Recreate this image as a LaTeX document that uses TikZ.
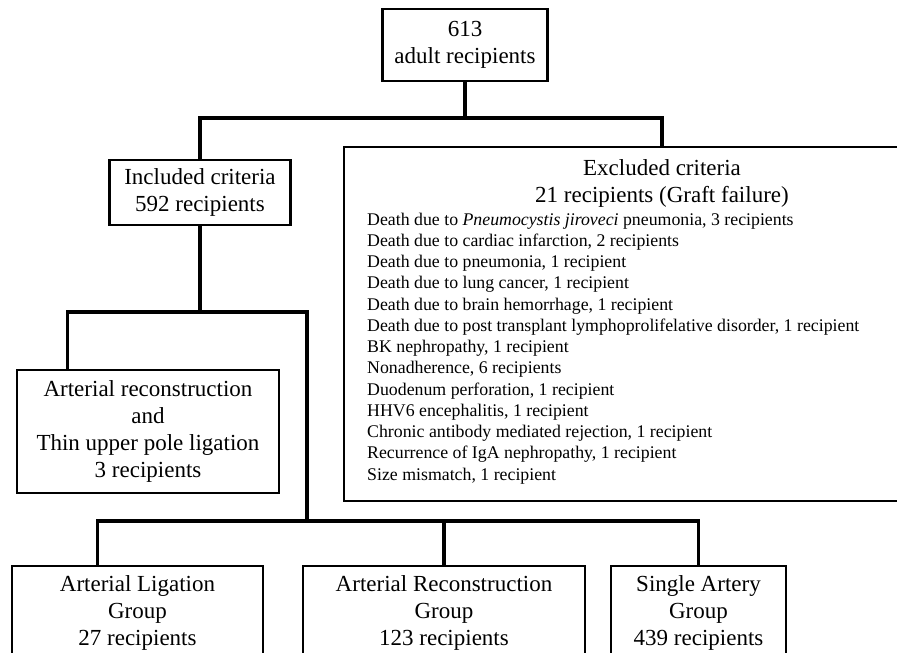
\documentclass[tikz,border=0pt]{standalone}
\usepackage{fontspec}
\setmainfont{Liberation Serif}
\newcommand{\boxfont}{\fontsize{23}{27.3}\selectfont}
\newcommand{\listfont}{\fontsize{17.8}{21.25}\selectfont}
\tikzset{
  box/.style={draw, line width=2.8pt, align=center, font=\boxfont, inner sep=0pt},
  link/.style={line width=3.3pt},
}

\begin{document}
\begin{tikzpicture}[x=1pt,y=-1pt]
  \useasboundingbox (0,0) rectangle (897,653);
  \clip (0,0) rectangle (897,653);
  \node[box, minimum width=165pt, minimum height=72pt] (all) at (465,45) {613\\adult recipients};
  \node[box, minimum width=181pt, minimum height=65pt] (incl) at (200,192.5) {Included criteria\\592 recipients};
  \node[box, minimum width=636pt, minimum height=354pt] (excl) at (662,324) {};
  \node[font=\boxfont, anchor=base] (exhead) at (662,175) {Excluded criteria};
  \node[font=\boxfont, anchor=base] (exsum) at (662,202) {21 recipients (Graft failure)};
  \foreach \t [count=\i] in {
      {Death due to \textit{Pneumocystis jiroveci} pneumonia, 3 recipients},
      {Death due to cardiac infarction, 2 recipients},
      {Death due to pneumonia, 1 recipient},
      {Death due to lung cancer, 1 recipient},
      {Death due to brain hemorrhage, 1 recipient},
      {Death due to post transplant lymphoprolifelative disorder, 1 recipient},
      {BK nephropathy, 1 recipient},
      {Nonadherence, 6 recipients},
      {Duodenum perforation, 1 recipient},
      {HHV6 encephalitis, 1 recipient},
      {Chronic antibody mediated rejection, 1 recipient},
      {Recurrence of IgA nephropathy, 1 recipient},
      {Size mismatch, 1 recipient}}
    \node[font=\listfont, anchor=base west, inner sep=0pt] (ex\i) at (367,{225+21.25*(\i-1)}) {\t};
  \node[box, minimum width=262pt, minimum height=123pt] (arec) at (148,431.5) {Arterial reconstruction\\and\\Thin upper pole ligation\\3 recipients};
  \node[box, minimum width=251pt, minimum height=94pt] (grp1) at (137.5,613) {Arterial Ligation\\Group\\27 recipients};
  \node[box, minimum width=282pt, minimum height=94pt] (grp2) at (444,613) {Arterial Reconstruction\\Group\\123 recipients};
  \node[box, minimum width=175pt, minimum height=94pt] (grp3) at (698.5,613) {Single Artery\\Group\\439 recipients};

  \coordinate (j1) at (465,118);
  \coordinate (j2) at (200,312);
  \coordinate (j3) at (307,521);
  \draw[link] (all.south) -- (j1);
  \draw[link] (incl.north) |- (j1) -| (excl.north);
  \draw[link] (incl.south) -- (j2);
  \draw[link] ([xshift=52pt]arec.north west) |- (j3 |- j2) -- (j3);
  \draw[link] ([xshift=87pt]grp1.north west) |- (grp3.north |- j3) -- (grp3.north);
  \draw[link] (grp2.north) -- (grp2.north |- j3);
\end{tikzpicture}
\end{document}
